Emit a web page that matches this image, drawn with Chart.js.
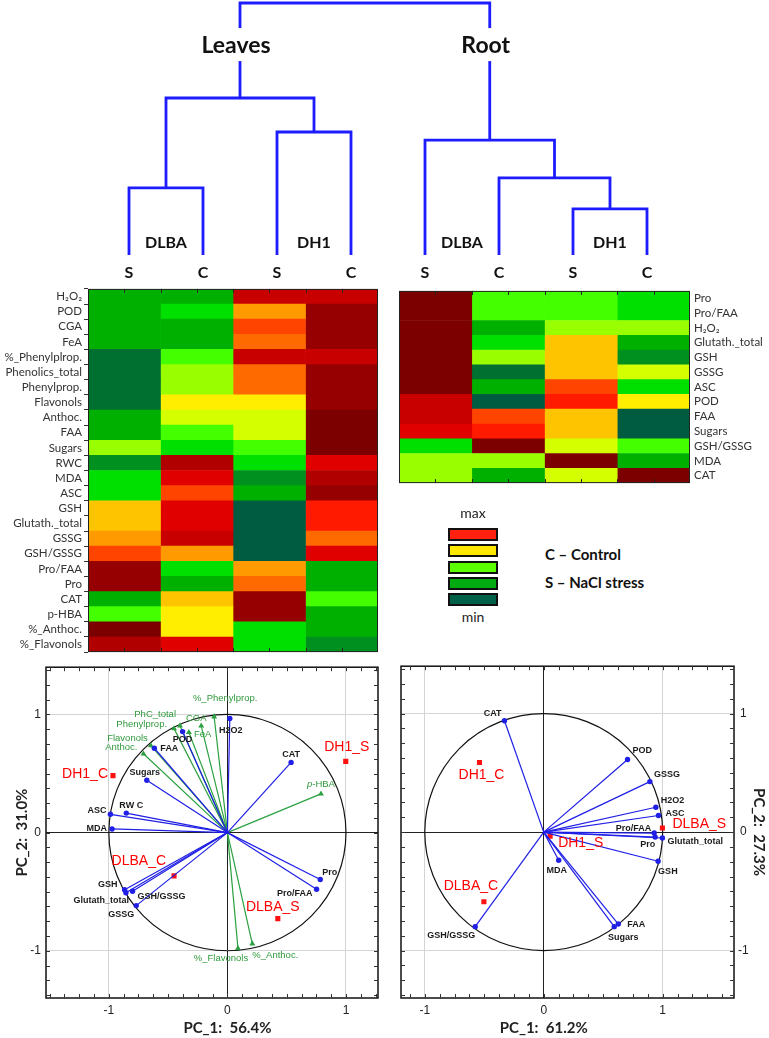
<!DOCTYPE html>
<html>
<head>
<meta charset="utf-8">
<title>Leaves / Root - heatmaps and PCA</title>
<script src="https://cdn.jsdelivr.net/npm/chart.js@4.4.1/dist/chart.umd.min.js"></script>
<style>
  html, body { margin: 0; padding: 0; background: #fff; }
  body { width: 769px; height: 1038px; position: relative; overflow: hidden; font-family: Lato, "Open Sans", sans-serif; color: #222; }
  .pane { position: absolute; }
  .sw { position: absolute; left: 448px; width: 46px; height: 9px; border: 2px solid #111; }
  .lg { position: absolute; left: 443px; width: 60px; text-align: center; font-size: 14px; line-height: 18px; }
  .key { position: absolute; left: 545px; font-size: 15px; font-weight: bold; line-height: 18px; color: #111; }
</style>
</head>
<body>
<div class="pane" style="left:0;top:0;width:769px;height:283px"><canvas id="dendro"></canvas></div>
<div class="pane" style="left:0;top:280px;width:382px;height:381px"><canvas id="heatLeaves"></canvas></div>
<div class="pane" style="left:395px;top:280px;width:374px;height:214px"><canvas id="heatRoot"></canvas></div>
<div id="legend">
  <div class="lg" style="top:504px">max</div>
  <div class="lg" style="top:608px">min</div>
  <div class="key" style="top:545px">C – Control</div>
  <div class="key" style="top:573px">S – NaCl stress</div>
</div>
<div class="pane" style="left:0;top:655px;width:385px;height:383px"><canvas id="pcaLeaves"></canvas></div>
<div class="pane" style="left:390px;top:655px;width:379px;height:383px"><canvas id="pcaRoot"></canvas></div>

<script>
// ---- dendrogram (leaves 0..7, merges like a linkage table: child a, child b, height)
var dendroLeaves = ['S', 'C', 'S', 'C', 'S', 'C', 'S', 'C'];
var genotypes = ['DLBA', 'DH1', 'DLBA', 'DH1'];
var tissues = ['Leaves', 'Root'];
var dendroMerges = [
  [0, 1, 0.266],
  [2, 3, 0.488],
  [8, 9, 0.623],
  [6, 7, 0.183],
  [5, 11, 0.306],
  [4, 12, 0.456],
  [10, 13, 1.0]
];

// ---- heatmaps: colour level 0 (min) .. 18 (max) per cell, columns S C S C
var heatCols = ['DLBA S', 'DLBA C', 'DH1 S', 'DH1 C'];
var leafRows = ['H₂O₂', 'POD', 'CGA', 'FeA', '%_Phenylplrop.', 'Phenolics_total', 'Phenylprop.',
  'Flavonols', 'Anthoc.', 'FAA', 'Sugars', 'RWC', 'MDA', 'ASC', 'GSH', 'Glutath._total', 'GSSG',
  'GSH/GSSG', 'Pro/FAA', 'Pro', 'CAT', 'p-HBA', '%_Anthoc.', '%_Flavonols'];
var leafLevels = [
  [3, 3, 15, 15], [3, 4, 10, 17], [3, 3, 12, 17], [3, 3, 11, 17], [1, 5, 15, 15],
  [1, 6, 11, 17], [1, 6, 11, 17], [1, 8, 8, 17], [3, 7, 7, 18], [3, 5, 7, 18],
  [6, 4, 5, 18], [2, 16, 4, 14], [4, 14, 2, 16], [4, 12, 3, 17], [9, 14, 0, 13],
  [9, 14, 0, 13], [10, 15, 0, 11], [12, 10, 0, 14], [17, 4, 10, 3], [17, 3, 11, 3],
  [3, 9, 17, 5], [5, 8, 17, 3], [18, 8, 4, 3], [16, 14, 4, 2]
];
var rootRows = ['Pro', 'Pro/FAA', 'H₂O₂', 'Glutath._total', 'GSH', 'GSSG', 'ASC', 'POD', 'FAA',
  'Sugars', 'GSH/GSSG', 'MDA', 'CAT'];
var rootLevels = [
  [18, 5, 5, 4], [18, 5, 5, 4], [18, 3, 6, 6], [18, 4, 9, 3], [18, 6, 9, 2],
  [18, 1, 9, 7], [18, 3, 12, 4], [15, 0, 13, 8], [15, 12, 9, 0], [14, 13, 9, 0],
  [4, 18, 7, 5], [6, 6, 18, 3], [6, 3, 7, 18]
];

// ---- PCA, leaves
var leafVarNames = ['H2O2', 'POD', 'FAA', 'Sugars', 'CAT', 'ASC', 'RW C', 'MDA', 'GSH',
  'Glutath_total', 'GSH/GSSG', 'GSSG', 'Pro', 'Pro/FAA'];
var leafVarX = [0.02, -0.378, -0.616, -0.68, 0.537, -0.987, -0.853, -0.973, -0.867, -0.856, -0.80, -0.769, 0.783, 0.752];
var leafVarY = [0.966, 0.855, 0.714, 0.443, 0.594, 0.155, 0.165, 0.031, -0.484, -0.509, -0.496, -0.618, -0.397, -0.479];
var leafPhenNames = ['%_Phenylprop.', 'CGA', 'FeA', 'PhC_total', 'Phenylprop.', 'Flavonols',
  'Anthoc.', 'p-HBA', '%_Flavonols', '%_Anthoc.'];
var leafPhenX = [-0.112, -0.221, -0.325, -0.40, -0.45, -0.646, -0.708, 0.789, 0.089, 0.21];
var leafPhenY = [0.981, 0.903, 0.849, 0.905, 0.88, 0.737, 0.667, 0.328, -0.98, -0.941];
var leafObsNames = ['DH1_C', 'DH1_S', 'DLBA_C', 'DLBA_S'];
var leafObsX = [-0.965, 0.998, -0.45, 0.425];
var leafObsY = [0.482, 0.603, -0.366, -0.728];

// ---- PCA, root
var rootVarNames = ['CAT', 'POD', 'GSSG', 'H2O2', 'ASC', 'Pro/FAA', 'Pro', 'Glutath_total', 'GSH',
  'MDA', 'FAA', 'Sugars', 'GSH/GSSG'];
var rootVarX = [-0.33, 0.705, 0.893, 0.943, 0.965, 0.929, 0.937, 0.998, 0.962, 0.126, 0.627, 0.593, -0.576];
var rootVarY = [0.94, 0.613, 0.426, 0.21, 0.14, -0.008, -0.042, -0.05, -0.246, -0.238, -0.776, -0.798, -0.798];
var rootObsNames = ['DH1_C', 'DLBA_S', 'DH1_S', 'DLBA_C'];
var rootObsX = [-0.54, 0.998, 0.054, -0.503];
var rootObsY = [0.588, 0.034, -0.034, -0.588];

// label placement next to the points: dx, dy (px), alignment
var leafLabelAt = {
  'H2O2': [1, 12, 'center'], 'POD': [0, 8, 'center'], 'FAA': [6, 0, 'left'], 'Sugars': [-2, -8, 'center'],
  'CAT': [0, -8, 'center'], 'ASC': [-4, -4, 'right'], 'RW C': [5, -8, 'center'], 'MDA': [-5, 0, 'right'],
  'GSH': [-7, -5, 'right'], 'Glutath_total': [3, 8, 'right'], 'GSH/GSSG': [5, 5, 'left'],
  'GSSG': [-2, 9, 'right'], 'Pro': [2, -7, 'left'], 'Pro/FAA': [-4, 4, 'right'],
  '%_Phenylprop.': [11, -18, 'center'], 'CGA': [-5, -8, 'center'], 'FeA': [5, 2, 'left'],
  'PhC_total': [-4, -11, 'right'], 'Phenylprop.': [-7, -4, 'right'], 'Flavonols': [-3, -7, 'right'],
  'Anthoc.': [-6, -6, 'right'], 'p-HBA': [0, -9, 'center'], '%_Flavonols': [-17, 10, 'center'],
  '%_Anthoc.': [23, 12, 'center'],
  'DH1_C': [-5, -2, 'right'], 'DH1_S': [1, -14, 'center'], 'DLBA_C': [-8, -15, 'right'], 'DLBA_S': [-5, -11, 'center']
};
var rootLabelAt = {
  'CAT': [-3, -7, 'right'], 'POD': [5, -9, 'left'], 'GSSG': [4, -7, 'left'], 'H2O2': [5, -7, 'left'],
  'ASC': [7, -2, 'left'], 'Pro/FAA': [-3, -5, 'right'], 'Pro': [0, 7, 'right'], 'Glutath_total': [5, 3, 'left'],
  'GSH': [0, 10, 'left'], 'MDA': [-2, 10, 'center'], 'FAA': [9, 0, 'left'], 'Sugars': [9, 11, 'center'],
  'GSH/GSSG': [-24, 9, 'center'],
  'DH1_C': [2, 13, 'center'], 'DLBA_S': [10, -4, 'left'], 'DH1_S': [8, 7, 'left'], 'DLBA_C': [-13, -16, 'center']
};

// colour scale, dark green (min) -> yellow -> dark red (max)
var levelColors = ['#005c40', '#007030', '#009020', '#00b000', '#00e000', '#44ff00', '#99ff00',
  '#d4ff00', '#ffee00', '#ffc400', '#ff9a00', '#ff6a00', '#ff4400', '#ff1a00', '#e00000',
  '#c80000', '#b00000', '#960000', '#7d0000'];
var legendColors = ['#ff2010', '#ffe800', '#5cff00', '#00aa10', '#006048'];

Chart.defaults.animation = false;
Chart.defaults.events = [];
Chart.defaults.font.family = 'Lato, sans-serif';
Chart.defaults.color = '#222';
Chart.defaults.plugins.legend.display = false;
Chart.defaults.plugins.tooltip.enabled = false;

// legend swatches
legendColors.forEach(function(c, i) {
  var d = document.createElement('div');
  d.className = 'sw';
  d.style.top = (528 + i * 16.3) + 'px';
  d.style.background = c;
  document.getElementById('legend').appendChild(d);
});

// ---------------- dendrogram
var nodeX = dendroLeaves.map(function(t, i) { return i; });
var nodeH = dendroLeaves.map(function() { return 0; });
var dendroSets = dendroMerges.map(function(m) {
  var a = m[0], b = m[1], h = m[2];
  var set = {
    data: [{x: nodeX[a], y: nodeH[a]}, {x: nodeX[a], y: h}, {x: nodeX[b], y: h}, {x: nodeX[b], y: nodeH[b]}],
    showLine: true, borderColor: '#1c1cff', borderWidth: 2.8, pointRadius: 0,
    borderJoinStyle: 'miter', clip: false
  };
  nodeX.push((nodeX[a] + nodeX[b]) / 2);
  nodeH.push(h);
  return set;
});

var dendroText = {
  id: 'dendroText',
  afterDatasetsDraw: function(chart) {
    var ctx = chart.ctx, xs = chart.scales.x, ys = chart.scales.y;
    var base = ys.getPixelForValue(0);
    ctx.save();
    ctx.textAlign = 'center';
    ctx.textBaseline = 'middle';
    ctx.fillStyle = '#111';
    ctx.font = 'bold 16px Lato';
    dendroLeaves.forEach(function(t, i) { ctx.fillText(t, xs.getPixelForValue(i), base + 18); });
    genotypes.forEach(function(t, k) { ctx.fillText(t, xs.getPixelForValue(2 * k + 0.5), base - 12); });
    ctx.font = 'bold 23px Lato';
    var top = dendroMerges[dendroMerges.length - 1];
    tissues.forEach(function(t, k) {
      var x = xs.getPixelForValue(nodeX[top[k]]) - 4;
      var y = ys.getPixelForValue(0.833);
      var w = ctx.measureText(t).width;
      ctx.fillStyle = '#fff';
      ctx.fillRect(x - w / 2 - 6, y - 17, w + 12, 33);
      ctx.fillStyle = '#111';
      ctx.fillText(t, x, y);
    });
    ctx.restore();
  }
};

new Chart(document.getElementById('dendro'), {
  type: 'scatter',
  data: {datasets: dendroSets},
  options: {
    responsive: true, maintainAspectRatio: false,
    layout: {padding: 0},
    scales: {
      x: {display: false, min: -1.7432, max: 8.6486},
      y: {display: false, min: -0.1111, max: 1.0119}
    }
  },
  plugins: [dendroText]
});

// ---------------- heatmaps
var heatFrame = {
  id: 'heatFrame',
  afterDatasetsDraw: function(chart) {
    var a = chart.chartArea, ctx = chart.ctx, xs = chart.scales.x;
    ctx.save();
    ctx.strokeStyle = '#222';
    ctx.lineWidth = 1;
    ctx.strokeRect(a.left + 0.5, a.top + 0.5, a.right - a.left - 1, a.bottom - a.top - 1);
    for (var k = 1; k < heatCols.length * 2; k++) {
      var px = Math.round(xs.getPixelForValue(k / 2)) + 0.5;
      ctx.beginPath();
      ctx.moveTo(px, a.top); ctx.lineTo(px, a.top + 4);
      ctx.moveTo(px, a.bottom); ctx.lineTo(px, a.bottom - 4);
      ctx.stroke();
    }
    ctx.restore();
  }
};

function heatmap(id, rows, levels, side, axisWidth, pad) {
  var sets = heatCols.map(function(c, j) {
    return {
      label: c,
      data: rows.map(function() { return 1; }),
      backgroundColor: levels.map(function(r) { return levelColors[r[j]]; }),
      borderWidth: 0, barPercentage: 1, categoryPercentage: 1
    };
  });
  return new Chart(document.getElementById(id), {
    type: 'bar',
    data: {labels: rows, datasets: sets},
    options: {
      indexAxis: 'y', responsive: true, maintainAspectRatio: false,
      layout: {padding: pad},
      scales: {
        x: {stacked: true, min: 0, max: heatCols.length, display: false},
        y: {
          stacked: true, position: side,
          afterFit: function(s) { s.width = axisWidth; },
          grid: {drawOnChartArea: false, drawTicks: side === 'left', tickLength: 4, color: '#333'},
          border: {display: false},
          ticks: {autoSkip: false, padding: side === 'left' ? 2 : 4, font: {size: 11.5}, color: '#333'}
        }
      }
    },
    plugins: [heatFrame]
  });
}

heatmap('heatLeaves', leafRows, leafLevels, 'left', 88, {top: 4, bottom: 4, left: 0, right: 4});
heatmap('heatRoot', rootRows, rootLevels, 'right', 79, {top: 4, bottom: 8, left: 4, right: 0});

// ---------------- PCA biplots
function vectorSets(names, xs, ys, color, style, r, font, fontColor) {
  return names.map(function(n, i) {
    return {
      data: [{x: 0, y: 0}, {x: xs[i], y: ys[i]}],
      names: [null, n], showLine: true,
      borderColor: color, backgroundColor: color, borderWidth: 1.2,
      pointRadius: [0, r], pointStyle: style, pointBorderWidth: 0,
      labelFont: font, labelColor: fontColor
    };
  });
}

function obsSet(names, xs, ys) {
  return {
    data: names.map(function(n, i) { return {x: xs[i], y: ys[i]}; }),
    names: names, showLine: false,
    pointStyle: 'rect', pointRadius: 3.6, pointBorderWidth: 0,
    backgroundColor: '#ff1010', borderColor: '#ff1010',
    labelFont: '14px "Liberation Sans"', labelColor: '#ff0000'
  };
}

var pcaDecor = {
  id: 'pcaDecor',
  beforeDatasetsDraw: function(chart) {
    var xs = chart.scales.x, ys = chart.scales.y, ctx = chart.ctx;
    var cx = xs.getPixelForValue(0), cy = ys.getPixelForValue(0);
    ctx.save();
    ctx.strokeStyle = '#111';
    ctx.lineWidth = 1.2;
    ctx.beginPath();
    ctx.ellipse(cx, cy, xs.getPixelForValue(1) - cx, cy - ys.getPixelForValue(1), 0, 0, Math.PI * 2);
    ctx.stroke();
    ctx.restore();
  },
  afterDatasetsDraw: function(chart, args, opts) {
    var ctx = chart.ctx;
    ctx.save();
    ctx.textBaseline = 'middle';
    chart.data.datasets.forEach(function(ds, i) {
      var meta = chart.getDatasetMeta(i);
      ds.names.forEach(function(n, j) {
        if (!n) return;
        var el = meta.data[j];
        var off = opts.offsets[n] || [4, -6, 'left'];
        var x = el.x + off[0], y = el.y + off[1];
        ctx.fillStyle = ds.labelColor;
        ctx.font = ds.labelFont;
        if (n.indexOf('p-') === 0) {
          // italic p in p-HBA
          var rest = n.slice(1);
          ctx.font = 'italic ' + ds.labelFont;
          var wp = ctx.measureText('p').width;
          ctx.font = ds.labelFont;
          var wr = ctx.measureText(rest).width;
          var x0 = off[2] === 'center' ? x - (wp + wr) / 2 : (off[2] === 'right' ? x - wp - wr : x);
          ctx.textAlign = 'left';
          ctx.font = 'italic ' + ds.labelFont;
          ctx.fillText('p', x0, y);
          ctx.font = ds.labelFont;
          ctx.fillText(rest, x0 + wp, y);
        } else {
          ctx.textAlign = off[2];
          ctx.fillText(n, x, y);
        }
      });
    });
    ctx.restore();
  },
  afterDraw: function(chart, args, opts) {
    var a = chart.chartArea, ctx = chart.ctx, xs = chart.scales.x, ys = chart.scales.y;
    ctx.save();
    ctx.strokeStyle = '#111';
    ctx.lineWidth = 1.5;
    ctx.strokeRect(a.left, a.top, a.right - a.left, a.bottom - a.top);
    // small inward ticks
    ctx.lineWidth = 1;
    ctx.strokeStyle = '#333';
    var k, p;
    for (k = Math.ceil(xs.min * 8); k <= Math.floor(xs.max * 8); k++) {
      p = Math.round(xs.getPixelForValue(k / 8)) + 0.5;
      ctx.beginPath();
      ctx.moveTo(p, a.top); ctx.lineTo(p, a.top + 4);
      ctx.moveTo(p, a.bottom); ctx.lineTo(p, a.bottom - 4);
      ctx.stroke();
    }
    for (k = Math.ceil(ys.min * 8); k <= Math.floor(ys.max * 8); k++) {
      p = Math.round(ys.getPixelForValue(k / 8)) + 0.5;
      ctx.beginPath();
      ctx.moveTo(a.left, p); ctx.lineTo(a.left + 4, p);
      ctx.moveTo(a.right, p); ctx.lineTo(a.right - 4, p);
      ctx.stroke();
    }
    // axis titles centred on the zero lines
    ctx.fillStyle = '#222';
    ctx.font = 'bold 15px Lato';
    ctx.textAlign = 'center';
    ctx.textBaseline = 'middle';
    ctx.fillText(opts.xTitle, xs.getPixelForValue(0), a.bottom + 30);
    var ty = ys.getPixelForValue(0);
    if (opts.ySide === 'left') {
      ctx.translate(a.left - 24, ty);
      ctx.rotate(-Math.PI / 2);
    } else {
      ctx.translate(a.right + 25, ty);
      ctx.rotate(Math.PI / 2);
    }
    ctx.fillText(opts.yTitle, 0, 0);
    ctx.restore();
  }
};

function pcaChart(id, sets, xMin, xMax, side, yWidth, pad, decor) {
  return new Chart(document.getElementById(id), {
    type: 'scatter',
    data: {datasets: sets},
    options: {
      responsive: true, maintainAspectRatio: false,
      layout: {padding: pad},
      scales: {
        x: {
          min: xMin, max: xMax,
          afterFit: function(s) { s.height = 40; },
          ticks: {stepSize: 1, includeBounds: false, padding: 5, maxRotation: 0,
            font: {family: '"Liberation Sans"', size: 12}, color: '#222'},
          grid: {drawTicks: false, color: function(c) { return c.tick && c.tick.value === 0 ? '#222' : '#d4d4d4'; }},
          border: {display: false}
        },
        y: {
          min: -1.4, max: 1.4, position: side,
          afterFit: function(s) { s.width = yWidth; },
          ticks: {stepSize: 1, includeBounds: false, padding: side === 'left' ? 5 : 4,
            crossAlign: side === 'left' ? 'near' : 'center',
            font: {family: '"Liberation Sans"', size: 12}, color: '#222'},
          grid: {drawTicks: false, color: function(c) { return c.tick && c.tick.value === 0 ? '#222' : '#d4d4d4'; }},
          border: {display: false}
        }
      },
      plugins: {pcaDecor: decor}
    },
    plugins: [pcaDecor]
  });
}

var blueFont = 'bold 9px "Liberation Sans"';
var greenFont = '9.5px "Liberation Sans"';

var leafSets = []
  .concat(vectorSets(leafVarNames, leafVarX, leafVarY, '#1f1fe6', 'circle', 2.7, blueFont, '#1a1a1a'))
  .concat(vectorSets(leafPhenNames, leafPhenX, leafPhenY, '#2ca040', 'triangle', 3.4, greenFont, '#2f9a3c'))
  .concat([obsSet(leafObsNames, leafObsX, leafObsY)]);

var rootSets = []
  .concat(vectorSets(rootVarNames, rootVarX, rootVarY, '#1f1fe6', 'circle', 2.7, blueFont, '#1a1a1a'))
  .concat([obsSet(rootObsNames, rootObsX, rootObsY)]);

pcaChart('pcaLeaves', leafSets, -1.53, 1.27, 'left', 46, {top: 10, right: 7, left: 0, bottom: 0},
  {offsets: leafLabelAt, xTitle: 'PC_1:  56.4%', yTitle: 'PC_2:  31.0%', ySide: 'left'});
pcaChart('pcaRoot', rootSets, -1.2, 1.6, 'right', 35, {top: 10, right: 0, left: 11, bottom: 0},
  {offsets: rootLabelAt, xTitle: 'PC_1:  61.2%', yTitle: 'PC_2:  27.3%', ySide: 'right'});
</script>
</body>
</html>
